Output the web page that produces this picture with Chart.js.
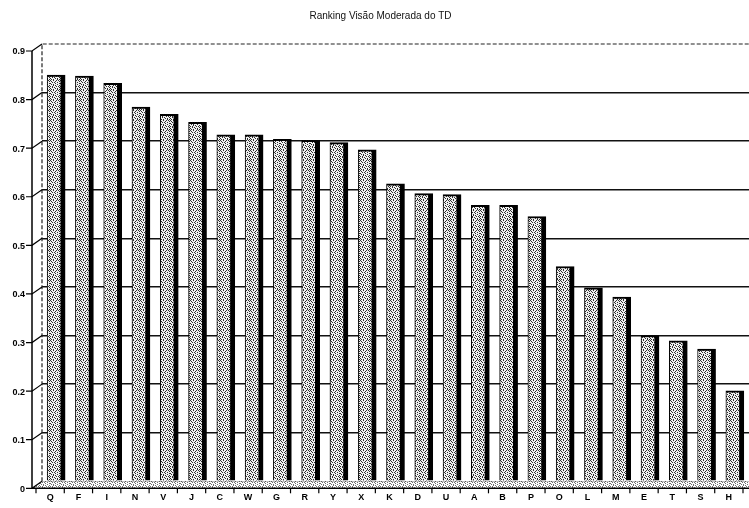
<!DOCTYPE html>
<html>
<head>
<meta charset="utf-8">
<script src="https://cdn.jsdelivr.net/npm/chart.js@4/dist/chart.umd.min.js"></script>
<style>
  html, body { margin: 0; padding: 0; background: #fff; overflow: hidden; }
  canvas { display: block; }
</style>
</head>
<body>
<canvas id="chart" width="749" height="508"></canvas>
<script>
// Ranking categories, ordered from highest to lowest
const categories = ['Q','F','I','N','V','J','C','W','G','R','Y','X','K','D','U','A','B','P','O','L','M','E','T','S','H'];
const rankingValues = [0.836, 0.834, 0.819, 0.770, 0.755, 0.739, 0.713, 0.713, 0.704, 0.702, 0.697, 0.682,
                       0.612, 0.592, 0.590, 0.568, 0.568, 0.545, 0.442, 0.398, 0.379, 0.300, 0.289, 0.272, 0.186];
const yTickLabels = ['0','0.1','0.2','0.3','0.4','0.5','0.6','0.7','0.8','0.9'];
const chartTitle = 'Ranking Visão Moderada do TD';

// Stippled fill used for the column faces and the floor
function makeStipple(dark, light) {
  const rows = [
    '#..#..#.#.',
    '.#...#...#',
    '..#.#..#..',
    '#....#...#',
    '.#.#...#..',
    '...#.#...#',
    '#.#...#.#.',
    '..#.#....#',
    '#....#.#..',
    '.#.#...#.#'
  ];
  const c = document.createElement('canvas');
  c.width = 10; c.height = 10;
  const g = c.getContext('2d');
  g.fillStyle = light;
  g.fillRect(0, 0, 10, 10);
  g.fillStyle = dark;
  rows.forEach((r, y) => {
    for (let x = 0; x < r.length; x++) if (r[x] === '#') g.fillRect(x, y, 1, 1);
  });
  return document.getElementById('chart').getContext('2d').createPattern(c, 'repeat');
}
const barFill = makeStipple('#2e2e2e', '#f2f2f2');
const floorFill = makeStipple('#707070', '#ffffff');

// Pseudo-3D frame: back wall outline, floor, front axis with slanted tick connectors
const DEPTH_X = 10, DEPTH_Y = 7;
const depthFrame = {
  id: 'depthFrame',
  beforeDatasetsDraw(chart) {
    const { ctx, chartArea: a, scales: { x, y } } = chart;
    const frontX = a.left - DEPTH_X;
    const frontBottom = a.bottom + DEPTH_Y;
    ctx.save();

    // floor
    ctx.beginPath();
    ctx.moveTo(a.left, a.bottom);
    ctx.lineTo(a.right + 20, a.bottom);
    ctx.lineTo(a.right + 20, frontBottom);
    ctx.lineTo(frontX, frontBottom);
    ctx.closePath();
    ctx.fillStyle = floorFill;
    ctx.fill();

    // back wall dashed outline (top and left)
    ctx.strokeStyle = '#222';
    ctx.lineWidth = 1.2;
    ctx.setLineDash([4, 2]);
    const topY = y.getPixelForValue(0.9);
    ctx.beginPath();
    ctx.moveTo(a.left, a.bottom);
    ctx.lineTo(a.left, topY);
    ctx.lineTo(a.right, topY);
    ctx.stroke();
    ctx.setLineDash([]);

    // front vertical axis
    ctx.strokeStyle = '#000';
    ctx.lineWidth = 1.5;
    ctx.beginPath();
    ctx.moveTo(frontX, topY + DEPTH_Y);
    ctx.lineTo(frontX, frontBottom);
    ctx.stroke();

    // front floor edge
    ctx.beginPath();
    ctx.moveTo(frontX, frontBottom);
    ctx.lineTo(a.right, frontBottom);
    ctx.stroke();

    // tick marks and slanted connectors on the value axis
    ctx.lineWidth = 1.2;
    y.ticks.forEach(t => {
      const gy = y.getPixelForValue(t.value);
      ctx.beginPath();
      ctx.moveTo(frontX - 6, gy + DEPTH_Y);
      ctx.lineTo(frontX, gy + DEPTH_Y);
      ctx.lineTo(a.left, gy);
      ctx.stroke();
    });

    // category separators on the front edge
    const step = (a.right - a.left) / categories.length;
    for (let i = 0; i <= categories.length; i++) {
      const px = x.getPixelForValue(i) - step / 2 - DEPTH_X + 4;
      if (px < frontX || px > a.right) continue;
      ctx.beginPath();
      ctx.moveTo(px, frontBottom);
      ctx.lineTo(px, frontBottom + 5);
      ctx.stroke();
    }
    ctx.restore();
  }
};

new Chart(document.getElementById('chart'), {
  type: 'bar',
  data: {
    labels: categories,
    datasets: [{
      data: rankingValues,
      backgroundColor: barFill,
      borderColor: '#000',
      borderWidth: { left: 1, right: 5, top: 2, bottom: 0 },
      barThickness: 18
    }]
  },
  options: {
    responsive: false,
    animation: false,
    devicePixelRatio: 1,
    layout: { padding: { left: 12, right: 0, top: 0, bottom: 0 } },
    plugins: {
      legend: { display: false },
      tooltip: { enabled: false },
      title: {
        display: true,
        text: chartTitle,
        color: '#111',
        font: { family: 'Liberation Sans, Arial, sans-serif', size: 10, weight: 'normal' },
        padding: { top: 10, bottom: 22 }
      }
    },
    scales: {
      x: {
        grid: { display: false },
        border: { display: false },
        ticks: {
          color: '#000',
          font: { family: 'Liberation Sans, Arial, sans-serif', size: 9, weight: 'bold' },
          labelOffset: -6,
          padding: 3,
          maxRotation: 0,
          autoSkip: false
        },
        afterFit: s => { s.height = 26.7; }
      },
      y: {
        min: 0,
        max: 0.9,
        ticks: {
          stepSize: 0.1,
          color: '#000',
          font: { family: 'Liberation Sans, Arial, sans-serif', size: 9, weight: 'bold' },
          labelOffset: 8,
          padding: 17,
          callback: (v, i) => yTickLabels[i]
        },
        grid: {
          drawTicks: false,
          color: ctx => ctx.index === 9 ? 'rgba(0,0,0,0)' : '#111',
          lineWidth: 1.5
        },
        border: { display: false },
        afterFit: s => { s.width = 30; }
      }
    }
  },
  plugins: [depthFrame]
});
</script>
</body>
</html>
